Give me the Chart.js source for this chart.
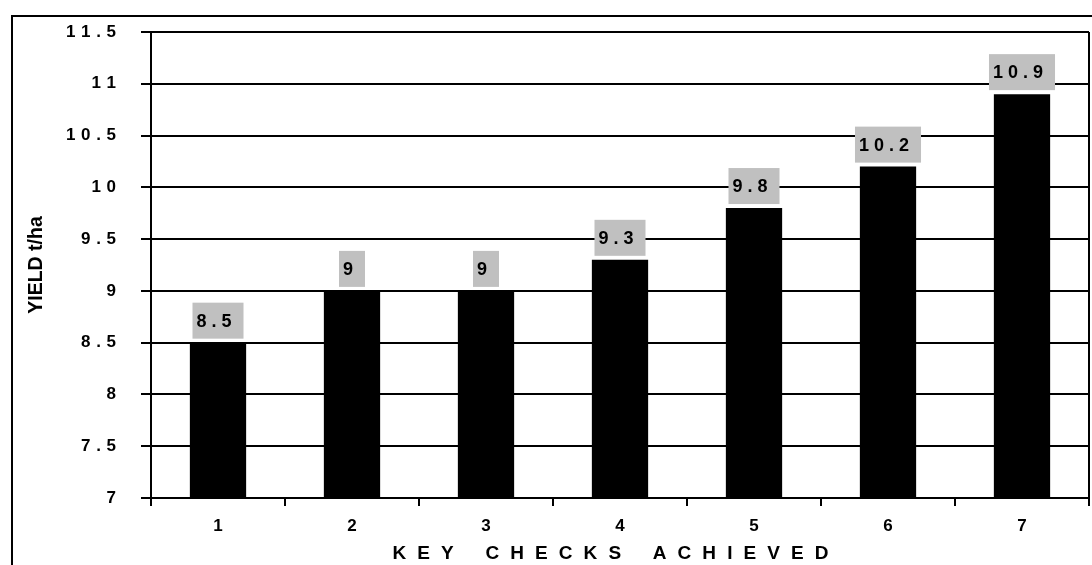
<!DOCTYPE html>
<html>
<head>
<meta charset="utf-8">
<script src="https://cdn.jsdelivr.net/npm/chart.js@4.4.0/dist/chart.umd.min.js"></script>
<style>
  html, body { margin: 0; padding: 0; background: #fff; overflow: hidden; }
  #wrap { position: relative; width: 1092px; height: 565px; }
  #frame { position: absolute; left: 11px; top: 15px; width: 1100px; height: 600px; border: 2px solid #000; pointer-events: none; }
  canvas { position: absolute; left: 0; top: 0; }
</style>
</head>
<body>
<div id="wrap">
  <canvas id="chart" width="1092" height="565"></canvas>
  <div id="frame"></div>
</div>
<script>
const categories = ['1', '2', '3', '4', '5', '6', '7'];
const yieldValues = [8.5, 9, 9, 9.3, 9.8, 10.2, 10.9];
const yMin = 7;
const yMax = 11.5;
const yStep = 0.5;

const FONT = "'Liberation Sans', Arial, sans-serif";
const EN = '\u2002';
const GAP = '\u2004';
const HAIR = '\u200A';

// spaced-out characters like the original sheet
const spaced = (s, sep) => String(s).split('').join(sep);

const labelBoxes = {
  id: 'labelBoxes',
  afterDatasetsDraw(chart) {
    const ctx = chart.ctx;
    const meta = chart.getDatasetMeta(0);
    ctx.save();
    ctx.font = 'bold 18px ' + FONT;
    ctx.letterSpacing = '5px';
    ctx.textBaseline = 'middle';
    ctx.textAlign = 'left';
    meta.data.forEach((bar, i) => {
      const txt = String(yieldValues[i]);
      const w = ctx.measureText(txt).width + 11;
      const h = 36;
      const x0 = bar.x - w / 2;
      const y0 = bar.y - 4 - h;
      ctx.fillStyle = '#c0c0c0';
      ctx.fillRect(x0, y0, w, h);
      ctx.fillStyle = '#000';
      ctx.fillText(txt, x0 + 4, y0 + h / 2 + 1);
    });
    ctx.restore();
  },
  afterDraw(chart) {
    // right edge of the plot frame
    const { ctx, chartArea } = chart;
    ctx.save();
    ctx.strokeStyle = '#000';
    ctx.lineWidth = 2;
    ctx.beginPath();
    ctx.moveTo(chartArea.right, chartArea.top);
    ctx.lineTo(chartArea.right, chartArea.bottom);
    ctx.stroke();
    ctx.restore();
  }
};

const SEP = EN + HAIR;
const xTitle = ['KEY', 'CHECKS', 'ACHIEVED'].map(w => spaced(w, SEP)).join(SEP + EN + SEP) + EN + EN;

new Chart(document.getElementById('chart'), {
  type: 'bar',
  data: {
    labels: categories,
    datasets: [{
      data: yieldValues,
      backgroundColor: '#000',
      borderWidth: 0,
      categoryPercentage: 1,
      barPercentage: 0.42
    }]
  },
  options: {
    responsive: false,
    animation: false,
    devicePixelRatio: 1,
    layout: { padding: { left: 0, top: 32, right: 3, bottom: 0 } },
    plugins: { legend: { display: false }, tooltip: { enabled: false } },
    scales: {
      x: {
        afterFit: axis => { axis.height = 67; },
        grid: { offset: true, drawOnChartArea: false, drawTicks: true, tickLength: 8, color: '#000', lineWidth: 2 },
        border: { display: true, color: '#000', width: 2 },
        ticks: { color: '#000', padding: 10, font: { family: FONT, size: 17, weight: 'bold' } },
        title: {
          display: true,
          text: xTitle,
          color: '#000',
          padding: 0,
          font: { family: FONT, size: 19, weight: 'bold' }
        }
      },
      y: {
        min: yMin,
        max: yMax,
        afterFit: axis => {
          axis.width = 151;
          axis.paddingTop = 0;
          axis.paddingBottom = 0;
        },
        grid: { color: '#000', lineWidth: 2, tickLength: 10 },
        border: { display: true, color: '#000', width: 2 },
        ticks: {
          stepSize: yStep,
          color: '#000',
          padding: 25,
          font: { family: FONT, size: 17, weight: 'bold' },
          callback: v => spaced(v, GAP)
        },
        title: {
          display: true,
          text: 'YIELD t/ha',
          color: '#000',
          padding: { top: 25, bottom: 0 },
          font: { family: FONT, size: 19.5, weight: 'bold' }
        }
      }
    }
  },
  plugins: [labelBoxes]
});
</script>
</body>
</html>
